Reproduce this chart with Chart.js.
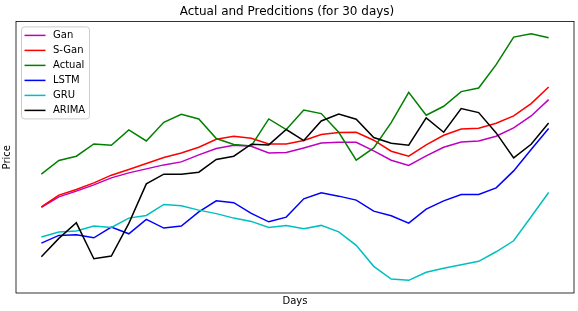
<!DOCTYPE html>
<html>
<head>
<meta charset="utf-8">
<script src="https://cdn.jsdelivr.net/npm/chart.js@4.4.1/dist/chart.umd.min.js"></script>
<style>
  html, body { margin: 0; padding: 0; background: #fff; }
  #wrap { width: 578px; height: 311px; }
</style>
</head>
<body>
<div id="wrap"><canvas id="chart" width="578" height="311"></canvas></div>
<script>
// day index 1..30
const days = [1, 2, 3, 4, 5, 6, 7, 8, 9, 10, 11, 12, 13, 14, 15, 16, 17, 18, 19, 20, 21, 22, 23, 24, 25, 26, 27, 28, 29, 30];

// price values (no y ticks in the original, so units are arbitrary)
const gan = [85.7, 96.3, 102, 108.3, 115.3, 120.3, 124.3, 128.3, 131.3, 138.3, 144.7, 148, 147, 140.3, 140.7, 145.3, 150.3, 151, 151, 142.3, 133, 127.7, 137.3, 146, 151.3, 152.3, 157, 165.3, 177.3, 193.7];
const sGan = [86.3, 98, 103.7, 110.3, 118, 123.7, 129.7, 135.7, 140.3, 146, 154, 157, 155, 149.3, 149.3, 152.7, 158.7, 160.7, 161, 153, 142, 137, 148.3, 158, 164.3, 165, 170, 177.3, 189.7, 206.3];
const actual = [119, 132.7, 137, 149.3, 148, 163.3, 152.3, 171, 179, 174.3, 154.7, 148.7, 147.3, 174.3, 163.7, 183.3, 179.7, 161, 133, 145.3, 170.7, 201, 178, 187, 201.7, 205.3, 228.7, 256.3, 259.7, 255.7];
const lstm = [50, 57.7, 58.3, 55.3, 66, 59.3, 73.7, 65, 67, 81.3, 92.3, 90.5, 79.7, 71.3, 76, 94.3, 100.3, 97, 93, 82, 77.3, 70, 84, 92.3, 98.7, 98.7, 105.3, 122.3, 143.7, 164.7];
const gru = [56, 61, 62, 67, 65.7, 75, 77.7, 88.7, 87.3, 83, 79.5, 75, 71.7, 65.7, 67.7, 64.3, 67.7, 61.3, 47.7, 26.7, 14, 12.7, 20.7, 24.7, 28.3, 31.7, 41.3, 52.3, 76.3, 100.7];
const arima = [36.3, 54.7, 70.3, 34.3, 37, 69.7, 109.3, 119, 119, 121, 133.7, 137, 149, 148.3, 163.7, 152.7, 172.3, 179.3, 174, 155.7, 150, 148, 175.3, 161, 184.7, 180.7, 160.3, 135.3, 149, 170.3];

const FONT = 'DejaVu Sans';

function series(label, values, color, order) {
    return {
        label,
        data: values.map((v, i) => ({ x: days[i], y: v })),
        borderColor: color,
        backgroundColor: color,
        borderWidth: 1.5,
        pointRadius: 0,
        tension: 0,
        fill: false,
        order
    };
}

// frame round the plot area + matplotlib-like legend box
const framePlugin = {
    id: 'frame',
    afterDraw(chart) {
        const { ctx, chartArea: a } = chart;
        ctx.save();
        ctx.strokeStyle = '#000';
        ctx.lineWidth = 0.8;
        ctx.strokeRect(a.left, a.top, a.right - a.left, a.bottom - a.top);

        // legend
        const bx = a.left + 5.5, by = a.top + 5.5, bw = 68, bh = 92, r = 3;
        ctx.beginPath();
        ctx.moveTo(bx + r, by);
        ctx.arcTo(bx + bw, by, bx + bw, by + bh, r);
        ctx.arcTo(bx + bw, by + bh, bx, by + bh, r);
        ctx.arcTo(bx, by + bh, bx, by, r);
        ctx.arcTo(bx, by, bx + bw, by, r);
        ctx.closePath();
        ctx.fillStyle = 'rgba(255,255,255,0.8)';
        ctx.fill();
        ctx.strokeStyle = '#cccccc';
        ctx.lineWidth = 1;
        ctx.stroke();

        ctx.font = '10px "' + FONT + '"';
        ctx.textBaseline = 'middle';
        ctx.textAlign = 'left';
        chart.data.datasets.forEach((ds, i) => {
            const y = by + 8.5 + i * 15;
            ctx.beginPath();
            ctx.moveTo(bx + 3, y);
            ctx.lineTo(bx + 24, y);
            ctx.strokeStyle = ds.borderColor;
            ctx.lineWidth = 1.5;
            ctx.stroke();
            ctx.fillStyle = '#000';
            ctx.fillText(ds.label, bx + 31.5, y + 0.5);
        });
        ctx.restore();
    }
};

new Chart(document.getElementById('chart'), {
    type: 'line',
    data: {
        datasets: [
            series('Gan', gan, '#bf00bf', 5),
            series('S-Gan', sGan, '#ff0000', 4),
            series('Actual', actual, '#008000', 3),
            series('LSTM', lstm, '#0000ff', 2),
            series('GRU', gru, '#00bfbf', 1),
            series('ARIMA', arima, '#000000', 0)
        ]
    },
    options: {
        responsive: false,
        animation: false,
        layout: { padding: { left: 0, right: 4, top: 0, bottom: 0 } },
        plugins: {
            legend: { display: false },
            tooltip: { enabled: false },
            title: {
                display: true,
                text: 'Actual and Predcitions (for 30 days)',
                color: '#000',
                font: { family: FONT, size: 12, weight: 'normal' },
                padding: { top: 5, bottom: 2 }
            }
        },
        scales: {
            x: {
                type: 'linear',
                min: days[0] - 1.45,
                max: days[days.length - 1] + 1.45,
                ticks: { display: false },
                grid: { display: false, drawTicks: false },
                border: { display: false },
                title: {
                    display: true,
                    text: 'Days',
                    color: '#000',
                    font: { family: FONT, size: 10 },
                    padding: { top: 2, bottom: 4 }
                }
            },
            y: {
                min: 0,
                max: 272,
                ticks: { display: false },
                grid: { display: false, drawTicks: false },
                border: { display: false },
                title: {
                    display: true,
                    text: 'Price',
                    color: '#000',
                    font: { family: FONT, size: 10 },
                    padding: { top: 1, bottom: 3 }
                }
            }
        }
    },
    plugins: [framePlugin]
});
</script>
</body>
</html>
